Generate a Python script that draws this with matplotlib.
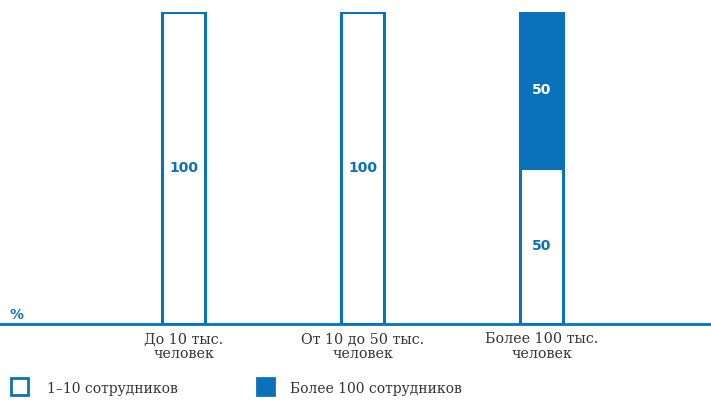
import numpy as np
import matplotlib.pyplot as plt
from matplotlib.patches import Rectangle

categories = ['До 10 тыс.\nчеловек', 'От 10 до 50 тыс.\nчеловек', 'Более 100 тыс.\nчеловек']
small = [100, 100, 50]      # 1–10 сотрудников
large = [0, 0, 50]          # Более 100 сотрудников
legend_labels = ['1–10 сотрудников', 'Более 100 сотрудников']

blue = '#0a72bb'
grey = '#333333'

fig = plt.figure(figsize=(7.11, 4.01), dpi=100)
ax = fig.add_axes([0, 0.192, 1, 0.778])

x = np.arange(len(categories))
w = 0.24
ax.bar(x, small, w, color='white', edgecolor=blue, linewidth=2.2, zorder=2)
ax.bar(x, large, w, bottom=small, color=blue, edgecolor=blue, linewidth=2.2, zorder=2)

for i in range(len(x)):
    if small[i] > 0:
        ax.text(x[i], small[i] / 2, str(small[i]), ha='center', va='center',
                color=blue, fontsize=10, fontweight='bold', family='DejaVu Sans')
    if large[i] > 0:
        ax.text(x[i], small[i] + large[i] / 2, str(large[i]), ha='center', va='center',
                color='white', fontsize=10, fontweight='bold', family='DejaVu Sans')

ax.set_xlim(-1.025, 2.947)
ax.set_ylim(0, 100)
for s in ['top', 'right', 'left']:
    ax.spines[s].set_visible(False)
ax.spines['bottom'].set_color(blue)
ax.spines['bottom'].set_linewidth(2)
ax.set_yticks([])
ax.set_xticks(x)
ax.set_xticklabels(categories, fontsize=10.3, color=grey, family='DejaVu Serif',
                   linespacing=1.1)
ax.tick_params(axis='x', length=0, pad=6)
ax.patch.set_alpha(0)

fig.text(0.014, 0.205, '%', color=blue, fontsize=10, fontweight='bold', family='DejaVu Sans')

# legend
fig.patches.append(Rectangle((0.016, 0.015), 0.024, 0.042, transform=fig.transFigure,
                             facecolor='white', edgecolor=blue, linewidth=2))
fig.text(0.066, 0.030, legend_labels[0], color=grey, fontsize=10, va='center',
         family='DejaVu Serif')
fig.patches.append(Rectangle((0.362, 0.015), 0.024, 0.042, transform=fig.transFigure,
                             facecolor=blue, edgecolor=blue, linewidth=2))
fig.text(0.408, 0.030, legend_labels[1], color=grey, fontsize=10, va='center',
         family='DejaVu Serif')

fig.savefig('out.png', dpi=100)
